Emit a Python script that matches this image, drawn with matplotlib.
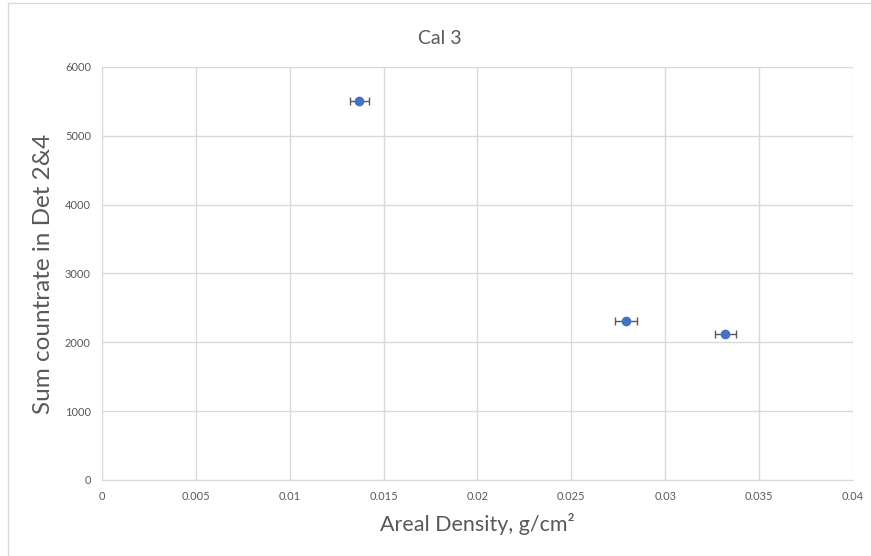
import matplotlib
matplotlib.use('Agg')
import matplotlib.pyplot as plt
from matplotlib.patches import Rectangle

# data
density = [0.0137, 0.0279, 0.0332]
countrate = [5510, 2310, 2120]
density_err = [0.0005, 0.0006, 0.00055]

x_ticks = [0, 0.005, 0.01, 0.015, 0.02, 0.025, 0.03, 0.035, 0.04]
x_tick_labels = ['0', '0.005', '0.01', '0.015', '0.02', '0.025', '0.03', '0.035', '0.04']
y_ticks = [0, 1000, 2000, 3000, 4000, 5000, 6000]

plt.rcParams['font.family'] = ['Lato', 'DejaVu Sans']

fig = plt.figure(figsize=(8.71, 5.56), dpi=100)
ax = fig.add_axes([0.1171, 0.1367, 0.8622, 0.7428])

# chart border like excel
fig.patches.append(Rectangle((8 / 871, -0.1), 1.0, 1.0 + 0.1 - 3 / 556, transform=fig.transFigure,
                             fill=False, edgecolor='#d9d9d9', linewidth=1))

ax.errorbar(density, countrate, xerr=density_err, fmt='o', color='#4472c4', markersize=6,
            ecolor='#595959', elinewidth=1, capsize=3, capthick=1, zorder=3)

ax.set_xlim(0, 0.04)
ax.set_ylim(0, 6000)
ax.set_xticks(x_ticks)
ax.set_xticklabels(x_tick_labels)
ax.set_yticks(y_ticks)
ax.grid(True, color='#d9d9d9', linewidth=1)
ax.set_axisbelow(True)
for side in ['top', 'right', 'left']:
    ax.spines[side].set_visible(False)
ax.spines['bottom'].set_color('#d9d9d9')
ax.tick_params(length=0, colors='#595959', labelsize=8, pad=8)

# title is centred on the whole chart area, not the plot area
fig.text(440 / 871, 1 - 38 / 556, 'Cal 3', fontsize=14, color='#595959', ha='center', va='center')
ax.set_xlabel('Areal Density, g/cm²', fontsize=15.5, color='#595959', labelpad=8)
ax.set_ylabel('Sum countrate in Det 2&4', fontsize=17.5, color='#595959')
ax.yaxis.set_label_coords(-0.064, 0.5)

plt.savefig('out.png', dpi=100)
